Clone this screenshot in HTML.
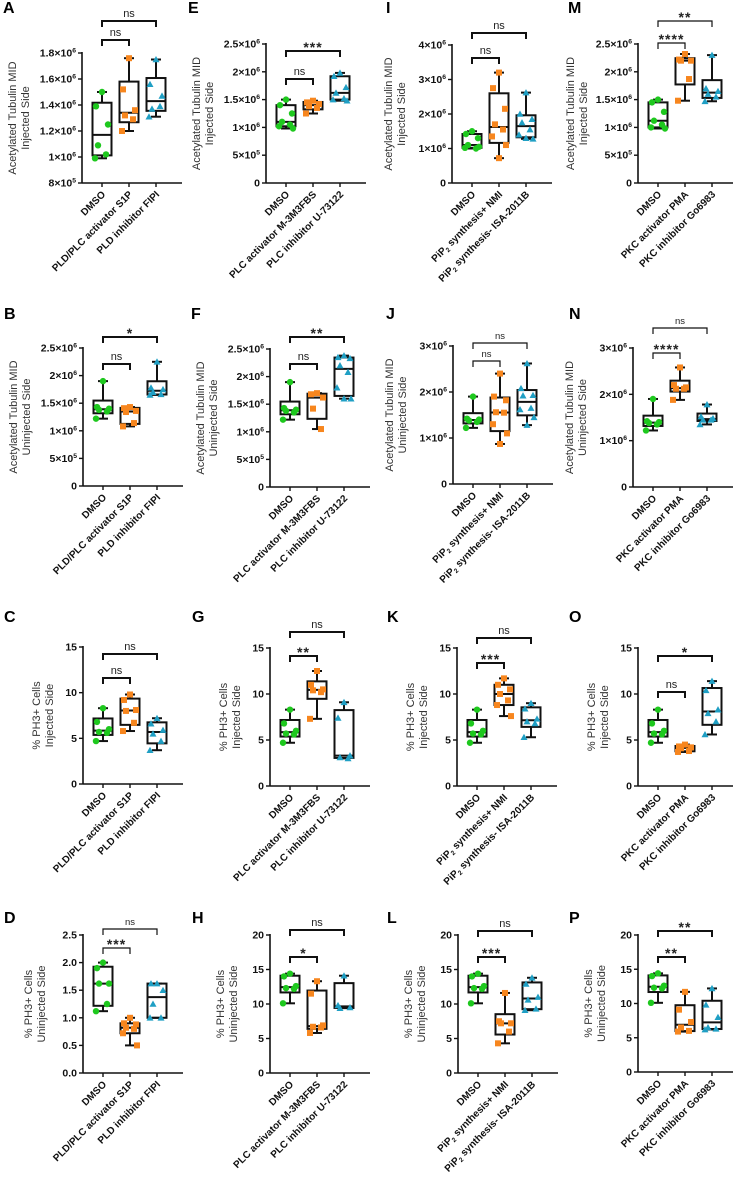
<!DOCTYPE html>
<html><head><meta charset="utf-8"><style>
body{margin:0;background:#fff}
svg{display:block;font-family:"Liberation Sans",Arial,sans-serif}
</style></head><body>
<svg id="fig" width="733" height="1183" viewBox="0 0 733 1183"></svg>
<script>
const sciTicksA = [800000,1000000,1200000,1400000,1600000,1800000];
const sciLabelsA = ["8×10^5","1×10^6","1.2×10^6","1.4×10^6","1.6×10^6","1.8×10^6"];
const sciTicks25 = [0,500000,1000000,1500000,2000000,2500000];
const sciLabels25 = ["0","5×10^5","1×10^6","1.5×10^6","2×10^6","2.5×10^6"];
const sciTicks4 = [0,1000000,2000000,3000000,4000000];
const sciLabels4 = ["0","1×10^6","2×10^6","3×10^6","4×10^6"];
const sciTicks3 = [0,1000000,2000000,3000000];
const sciLabels3 = ["0","1×10^6","2×10^6","3×10^6"];
const pctTicks15 = [0,5,10,15];
const pctLabels15 = ["0","5","10","15"];
const pctTicks25 = [0,0.5,1,1.5,2,2.5];
const pctLabels25 = ["0.0","0.5","1.0","1.5","2.0","2.5"];
const pctTicks20 = [0,5,10,15,20];
const pctLabels20 = ["0","5","10","15","20"];

const groupsPLD = ["DMSO","PLD/PLC activator  S1P","PLD inhibitor FIPI"];
const groupsPLC = ["DMSO","PLC activator  M-3M3FBS","PLC inhibitor U-73122"];
const groupsPIP = ["DMSO","PiP_2 synthesis+  NMI","PiP_2 synthesis-  ISA-2011B"];
const groupsPKC = ["DMSO","PKC activator  PMA","PKC inhibitor  Go6983"];

const dataA = [[1.5e6,1.39e6,1.25e6,1.09e6,1.02e6,0.99e6],[1.76e6,1.52e6,1.36e6,1.32e6,1.29e6,1.2e6],[1.75e6,1.56e6,1.47e6,1.37e6,1.39e6,1.31e6]];
const dataE = [[1.5e6,1.4e6,1.25e6,1.1e6,1.05e6,1.02e6,0.98e6],[1.48e6,1.45e6,1.42e6,1.38e6,1.35e6,1.25e6],[1.98e6,1.92e6,1.72e6,1.62e6,1.52e6,1.5e6,1.48e6]];
const dataI = [[1.5e6,1.42e6,1.3e6,1.1e6,1.0e6,1.02e6,1.05e6],[3.2e6,2.75e6,2.15e6,1.7e6,1.55e6,1.35e6,1.1e6,0.72e6],[2.62e6,2.0e6,1.85e6,1.75e6,1.55e6,1.4e6,1.28e6,1.3e6]];
const dataM = [[1.5e6,1.45e6,1.28e6,1.12e6,1.05e6,1.0e6,0.98e6],[2.32e6,2.22e6,2.2e6,2.2e6,1.87e6,1.48e6],[2.3e6,1.7e6,1.65e6,1.6e6,1.55e6,1.47e6]];
const dataB = [[1.9e6,1.43e6,1.4e6,1.38e6,1.35e6,1.22e6],[1.43e6,1.41e6,1.36e6,1.34e6,1.14e6,1.08e6],[2.25e6,1.78e6,1.75e6,1.7e6,1.66e6,1.65e6]];
const dataF = [[1.9e6,1.43e6,1.4e6,1.38e6,1.35e6,1.22e6],[1.7e6,1.68e6,1.62e6,1.42e6,1.05e6],[2.38e6,2.35e6,2.33e6,2.2e6,2.08e6,1.8e6,1.6e6,1.6e6]];
const dataJ = [[1.9e6,1.42e6,1.4e6,1.38e6,1.35e6,1.22e6],[2.4e6,1.9e6,1.82e6,1.56e6,1.55e6,1.3e6,1.1e6,0.87e6],[2.62e6,2.08e6,1.93e6,1.92e6,1.65e6,1.62e6,1.45e6,1.28e6]];
const dataN = [[1.9e6,1.42e6,1.4e6,1.38e6,1.35e6,1.22e6],[2.58e6,2.2e6,2.15e6,2.12e6,2.12e6,1.88e6],[1.78e6,1.52e6,1.48e6,1.45e6,1.45e6,1.35e6]];
const dataC = [[8.3,6.8,6.0,5.7,5.6,4.7],[9.8,9.2,8.1,8.0,6.7,5.8],[7.2,6.6,5.9,5.5,4.7,3.7]];
const dataG = [[8.3,6.8,6.0,5.7,5.6,4.7],[12.5,11.0,10.5,10.4,10.2,7.3],[9.1,7.4,3.3,3.1,3.0]];
const dataK = [[8.3,6.8,6.0,5.7,5.6,4.7],[11.7,11.0,10.5,10.0,9.3,8.8,7.6],[9.0,8.4,7.3,7.0,6.8,5.3]];
const dataO = [[8.3,6.8,6.0,5.7,5.6,4.7],[4.5,4.3,4.2,4.1,3.8,3.7],[11.4,10.4,8.3,7.9,7.0,5.6]];
const dataD = [[2.0,1.9,1.62,1.62,1.25,1.12],[1.0,0.9,0.88,0.82,0.8,0.72,0.5],[1.62,1.62,1.5,1.25,1.0,1.0]];
const dataH = [[14.4,14.0,12.6,12.3,12.2,10.1],[13.3,11.5,6.9,6.7,6.6,5.8],[14.1,9.8,9.5,9.4]];
const dataL = [[14.4,14.0,12.6,12.3,12.2,10.1],[11.6,7.5,7.2,7.2,6.0,4.3],[13.8,12.9,11.0,10.6,9.3,9.1]];
const dataP = [[14.4,14.0,12.6,12.3,12.2,10.1],[11.7,9.1,7.3,6.5,6.0,5.9],[12.2,9.8,8.0,6.5,6.3,6.2]];

const sigA = [[0,2,"ns"],[0,1,"ns"]];
const sigE = [[0,2,"***"],[0,1,"ns"]];
const sigI = [[0,2,"ns"],[0,1,"ns"]];
const sigM = [[0,2,"**"],[0,1,"****"]];
const sigB = [[0,2,"*"],[0,1,"ns"]];
const sigF = [[0,2,"**"],[0,1,"ns"]];
const sigJ = [[0,2,"ns"],[0,1,"ns"]];
const sigN = [[0,2,"ns"],[0,1,"****"]];
const sigC = [[0,2,"ns"],[0,1,"ns"]];
const sigG = [[0,2,"ns"],[0,1,"**"]];
const sigK = [[0,2,"ns"],[0,1,"***"]];
const sigO = [[0,2,"*"],[0,1,"ns"]];
const sigD = [[0,2,"ns"],[0,1,"***"]];
const sigH = [[0,2,"ns"],[0,1,"*"]];
const sigL = [[0,2,"ns"],[0,1,"***"]];
const sigP = [[0,2,"**"],[0,1,"**"]];

const TUB_I = ["Acetylated Tubulin MID","Injected Side"];
const TUB_U = ["Acetylated Tubulin MID","Uninjected Side"];
const PH_I = ["% PH3+ Cells","Injected Side"];
const PH_U = ["% PH3+ Cells","Uninjected Side"];

const panels = [
 {L:"A",lx:3,ly:13,ax:82,top:53,bot:183,ticks:sciTicksA,labels:sciLabelsA,data:dataA,sig:sigA,by:[21,40],yl:TUB_I,yo:-66,g:groupsPLD,small:false},
 {L:"E",lx:188,ly:13,ax:266,top:44,bot:183,ticks:sciTicks25,labels:sciLabels25,data:dataE,sig:sigE,by:[51,79],yl:TUB_I,yo:-66,g:groupsPLC},
 {L:"I",lx:386,ly:13,ax:452,top:45,bot:183,ticks:sciTicks4,labels:sciLabels4,data:dataI,sig:sigI,by:[33,58],yl:TUB_I,yo:-60,g:groupsPIP},
 {L:"M",lx:568,ly:13,ax:638,top:44,bot:183,ticks:sciTicks25,labels:sciLabels25,data:dataM,sig:sigM,by:[21,43],yl:TUB_I,yo:-64,g:groupsPKC,small:true},
 {L:"B",lx:4,ly:319,ax:83,top:348,bot:486,ticks:sciTicks25,labels:sciLabels25,data:dataB,sig:sigB,by:[337,364],yl:TUB_U,yo:-66,g:groupsPLD},
 {L:"F",lx:191,ly:319,ax:270,top:349,bot:487,ticks:sciTicks25,labels:sciLabels25,data:dataF,sig:sigF,by:[337,364],yl:TUB_U,yo:-66,g:groupsPLC},
 {L:"J",lx:386,ly:319,ax:453,top:346,bot:484,ticks:sciTicks3,labels:sciLabels3,data:dataJ,sig:sigJ,by:[343,361],yl:TUB_U,yo:-60,g:groupsPIP,small:true},
 {L:"N",lx:569,ly:319,ax:633,top:348,bot:487,ticks:sciTicks3,labels:sciLabels3,data:dataN,sig:sigN,by:[328,353],yl:TUB_U,yo:-60,g:groupsPKC,small:true},
 {L:"C",lx:4,ly:622,ax:83,top:647,bot:784,ticks:pctTicks15,labels:pctLabels15,data:dataC,sig:sigC,by:[654,678],yl:PH_I,yo:-43,g:groupsPLD},
 {L:"G",lx:192,ly:622,ax:270,top:648,bot:786,ticks:pctTicks15,labels:pctLabels15,data:dataG,sig:sigG,by:[632,656],yl:PH_I,yo:-43,g:groupsPLC},
 {L:"K",lx:387,ly:622,ax:457,top:648,bot:786,ticks:pctTicks15,labels:pctLabels15,data:dataK,sig:sigK,by:[638,663],yl:PH_I,yo:-43,g:groupsPIP},
 {L:"O",lx:569,ly:622,ax:638,top:648,bot:786,ticks:pctTicks15,labels:pctLabels15,data:dataO,sig:sigO,by:[656,692],yl:PH_I,yo:-43,g:groupsPKC},
 {L:"D",lx:4,ly:923,ax:83,top:935,bot:1073,ticks:pctTicks25,labels:pctLabels25,data:dataD,sig:sigD,by:[929,948],yl:PH_U,yo:-51,g:groupsPLD,small:true},
 {L:"H",lx:192,ly:923,ax:270,top:935,bot:1073,ticks:pctTicks20,labels:pctLabels20,data:dataH,sig:sigH,by:[930,957],yl:PH_U,yo:-46,g:groupsPLC},
 {L:"L",lx:387,ly:923,ax:458,top:935,bot:1073,ticks:pctTicks20,labels:pctLabels20,data:dataL,sig:sigL,by:[931,957],yl:PH_U,yo:-46,g:groupsPIP},
 {L:"P",lx:569,ly:923,ax:638,top:935,bot:1072,ticks:pctTicks20,labels:pctLabels20,data:dataP,sig:sigP,by:[931,957],yl:PH_U,yo:-46,g:groupsPKC}
];

const NS="http://www.w3.org/2000/svg";
const svg=document.getElementById('fig');
const COLORS=["#1ec81e","#f7861e","#1f9fc4"];
const GOFF=[20,47,74];
const JIT=[0,-6,6,-4,4,-7,7,0];
function mk(tag,attrs,parent){const e=document.createElementNS(NS,tag);for(const k in attrs)e.setAttribute(k,attrs[k]);(parent||svg).appendChild(e);return e;}
function q(sorted,p){const n=sorted.length;let h=(n+1)*p-1;if(h<0)h=0;if(h>n-1)h=n-1;const lo=Math.floor(h),hi=Math.ceil(h);return sorted[lo]+(sorted[hi]-sorted[lo])*(h-lo);}
function setLabel(t,s,sz){
  if(s.indexOf("^")>=0){const [a,b]=s.split("^");t.appendChild(document.createTextNode(a));const sp=mk('tspan',{dy:-4,'font-size':sz*0.65},t);sp.textContent=b;}
  else if(s.indexOf("_")>=0){
    const i=s.indexOf("_");
    t.appendChild(document.createTextNode(s.slice(0,i)));
    const sp=mk('tspan',{dy:2,'font-size':sz*0.65},t);sp.textContent=s.charAt(i+1);
    const r=mk('tspan',{dy:-2},t);r.textContent=s.slice(i+2);
  }
  else t.textContent=s;
}
panels.forEach(p=>{
  const g=mk('g',{});
  
  
  const lo=p.ticks[0],hi=p.ticks[p.ticks.length-1];
  const y=v=>p.bot-(v-lo)/(hi-lo)*(p.bot-p.top);
  const gx=i=>p.ax+GOFF[i];
  const letter=mk('text',{x:p.lx,y:p.ly,'font-size':16,'font-weight':'bold',fill:'#000'},g);
  letter.textContent=p.L;
  
  
  const ya=mk('line',{x1:p.ax,y1:p.top-1,x2:p.ax,y2:p.bot,stroke:'#111','stroke-width':1.6},g);
  
  
  const xa=mk('line',{x1:p.ax,y1:p.bot,x2:p.ax+100,y2:p.bot,stroke:'#111','stroke-width':1.6},g);
  
  
  p.ticks.forEach((v,i)=>{
    mk('line',{x1:p.ax-4,y1:y(v),x2:p.ax,y2:y(v),stroke:'#111','stroke-width':1.4},g);
    const t=mk('text',{x:p.ax-6,y:y(v)+3.5,'text-anchor':'end','font-size':10.5,'font-weight':'bold',fill:'#111'},g);
    setLabel(t,p.labels[i],10.5);
    
    
  });
  const cy=(p.top+p.bot)/2;
  p.yl.forEach((s,i)=>{
    const xx=p.ax+p.yo+i*13;
    const t=mk('text',{x:xx,y:cy,'text-anchor':'middle','font-size':11,fill:'#333',transform:`rotate(-90 ${xx} ${cy})`},g);
    t.textContent=s;
    
    
  });
  p.g.forEach((s,i)=>{
    const xx=gx(i)+4,yy=p.bot+12;
    mk('line',{x1:gx(i),y1:p.bot,x2:gx(i),y2:p.bot+4,stroke:'#111','stroke-width':1.4},g);
    const t=mk('text',{x:xx,y:yy,'text-anchor':'end','font-size':10,'font-weight':'bold',fill:'#111',transform:`rotate(-45 ${xx} ${yy})`},g);
    setLabel(t,s,10);
    
    
  });
  p.data.forEach((vals,i)=>{
    const s=[...vals].sort((a,b)=>a-b);
    const mn=s[0],mx=s[s.length-1],q1=q(s,0.25),md=q(s,0.5),q3=q(s,0.75);
    const x=gx(i),w=19;
    const bg=mk('g',{},g);
    
    
    mk('line',{x1:x,y1:y(mx),x2:x,y2:y(q3),stroke:'#111','stroke-width':2},bg);
    mk('line',{x1:x,y1:y(q1),x2:x,y2:y(mn),stroke:'#111','stroke-width':2},bg);
    mk('line',{x1:x-5,y1:y(mx),x2:x+5,y2:y(mx),stroke:'#111','stroke-width':2},bg);
    mk('line',{x1:x-5,y1:y(mn),x2:x+5,y2:y(mn),stroke:'#111','stroke-width':2},bg);
    mk('rect',{x:x-w/2,y:y(q3),width:w,height:Math.max(0.5,y(q1)-y(q3)),fill:'none',stroke:'#111','stroke-width':2},bg);
    mk('line',{x1:x-w/2,y1:y(md),x2:x+w/2,y2:y(md),stroke:'#111','stroke-width':2},bg);
    vals.forEach((v,j)=>{
      const px=x+JIT[j%JIT.length],py=y(v);let m;
      if(i===0)m=mk('circle',{cx:px,cy:py,r:3.2,fill:COLORS[0]},bg);
      else if(i===1)m=mk('rect',{x:px-3,y:py-3,width:6,height:6,fill:COLORS[1]},bg);
      else m=mk('polygon',{points:`${px},${py-3.5} ${px+3.5},${py+2.8} ${px-3.5},${py+2.8}`,fill:COLORS[2]},bg);
      
      
    });
  });
  p.sig.forEach((b,k)=>{
    const by=p.by[k],x1=gx(b[0]),x2=gx(b[1]);
    const thin=p.small;
    const bk=mk('path',{d:`M${x1},${by+6}V${by}H${x2}V${by+6}`,fill:'none',stroke:'#111','stroke-width':thin?1.2:2},g);
    
    
    const ns=b[2]==="ns";
    const t=mk('text',{x:(x1+x2)/2,y:ns?by-4:by+1,'text-anchor':'middle','font-size':ns?(thin?9.5:11):14,'font-weight':ns?'normal':'bold',fill:'#222','letter-spacing':ns?0:1},g);
    t.textContent=b[2];
    
    
  });
});
</script>
</body></html>
